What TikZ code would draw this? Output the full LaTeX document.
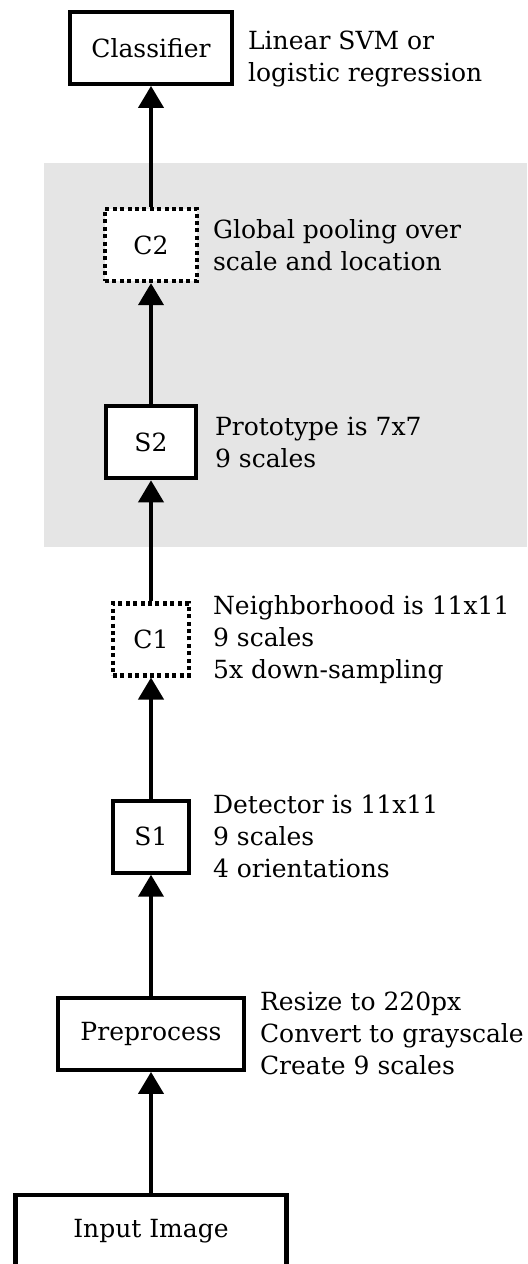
\documentclass[tikz,border=0pt]{standalone}
\usepackage{fontspec}
\setmainfont{DejaVu Serif}
\usetikzlibrary{arrows.meta, positioning, backgrounds}
\definecolor{cCluster}{HTML}{E5E5E5}

\begin{document}
\begin{tikzpicture}[
  x=0.5pt, y=-0.5pt,
  node distance=60.5pt and 6pt,
  box/.style={rectangle, draw, line width=2.1pt, fill=white, minimum height=36pt, inner sep=0pt, font=\fontsize{12.5}{16}\selectfont},
  pool/.style={box, dash pattern=on 2pt off 1.7pt},
  note/.style={align=left, inner sep=0pt, font=\fontsize{12.5}{16}\selectfont},
  ->, >={Triangle[width=12.5pt,length=11pt]}, line width=2pt
]
\useasboundingbox (0,0) rectangle (527,1264);

\node[box, minimum width=135.5pt] (img) at (151,1231) {Input Image};
\node[box, minimum width=93pt, above=of img] (pre) {Preprocess};
\node[box, minimum width=38pt, above=of pre] (s1) {S1};
\node[pool, minimum width=38pt, above=of s1] (c1) {C1};
\node[box, minimum width=45pt, above=of c1] (s2) {S2};
\node[pool, minimum width=46pt, above=of s2] (c2) {C2};
\node[box, minimum width=81pt, above=of c2] (cls) {Classifier};

\node[note, right=6pt of cls, yshift=-5.5pt] (clsnote) {Linear SVM or\\logistic regression};
\node[note, right=6pt of c2] (c2note) {Global pooling over\\scale and location};
\node[note, right=7.5pt of s2] (s2note) {Prototype is 7x7\\9 scales};
\node[note, right=10pt of c1] (c1note) {Neighborhood is 11x11\\9 scales\\5x down-sampling};
\node[note, right=10pt of s1] (s1note) {Detector is 11x11\\9 scales\\4 orientations};
\node[note, right=6pt of pre] (prenote) {Resize to 220px\\Convert to grayscale\\Create 9 scales};

\draw (img) -- (pre);
\draw (pre) -- (s1);
\draw (s1) -- (c1);
\draw (c1) -- (s2);
\draw (s2) -- (c2);
\draw (c2) -- (cls);

% cluster behind S2 and C2
\begin{scope}[on background layer]
\fill[cCluster] (44,163) rectangle (527,547);
\end{scope}
\end{tikzpicture}
\end{document}
